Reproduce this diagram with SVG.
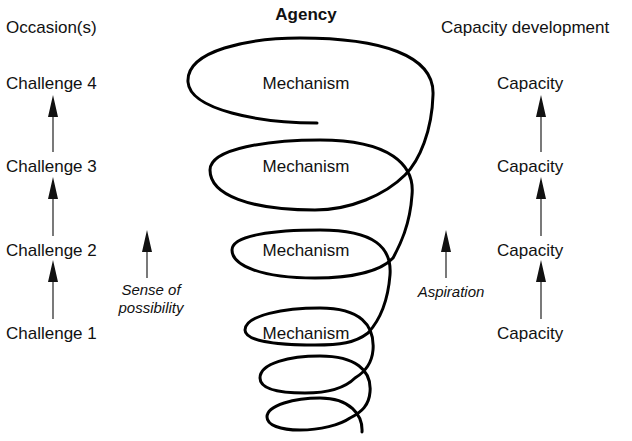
<svg xmlns="http://www.w3.org/2000/svg" width="632" height="441" viewBox="0 0 632 441">
<style>
text{font-family:"Liberation Sans",Arial,sans-serif;font-size:17px;fill:#111}
.c{text-anchor:middle}
.i{font-style:italic;font-size:15px}
.a{stroke:#222;stroke-width:1.2;fill:none}
.h{fill:#111}
</style>
<rect width="632" height="441" fill="#fff"/>
<g id="headers">
<text x="306" y="20" class="c" style="font-weight:bold">Agency</text>
<text x="6" y="33">Occasion(s)</text>
<text x="441" y="33">Capacity development</text>
</g>
<g id="spiral"><path fill="none" stroke="#000" stroke-width="3" stroke-linecap="round" d="M317,123 C260,123 190,110 188,82 C186,50 250,38 300,38 C380,38 435,55 433,95 C432,130 420,160 405,175 C385,195 350,210 315,210 C250,210 210,195 210,170 C210,148 270,140 320,140 C390,140 415,165 412,195 C410,225 400,245 393,258 C380,272 350,278 315,278 C260,278 232,265 232,250 C232,235 275,230 320,230 C375,230 392,248 390,275 C388,300 380,320 368,333 C355,343 340,345 315,345 C270,345 245,340 245,330 C245,315 285,308 320,308 C360,308 375,325 373,350 C372,362 365,372 355,378 C345,388 330,393 305,393 C275,393 260,388 260,378 C260,363 290,356 320,356 C355,356 372,370 370,392 C369,405 362,412 350,418 C340,425 320,430 300,430 C280,430 267,425 267,417 C267,405 295,398 320,398 C350,398 363,415 362,432"/></g>
<g id="mechanisms">
<text x="306" y="89" class="c">Mechanism</text>
<text x="306" y="172" class="c">Mechanism</text>
<text x="306" y="256" class="c">Mechanism</text>
<text x="306" y="339" class="c">Mechanism</text>
</g>
<g id="challenges">
<text x="6" y="89">Challenge 4</text>
<text x="6" y="172">Challenge 3</text>
<text x="6" y="256">Challenge 2</text>
<text x="6" y="339">Challenge 1</text>
</g>
<g id="capacities">
<text x="497" y="89">Capacity</text>
<text x="497" y="172">Capacity</text>
<text x="497" y="256">Capacity</text>
<text x="497" y="339">Capacity</text>
</g>
<g id="labels">
<text x="151" y="295" class="c i">Sense of</text>
<text x="151" y="313" class="c i">possibility</text>
<text x="451" y="297" class="c i">Aspiration</text>
</g>
<g id="connectors">
<path class="a" d="M53,319 V275 M53,236 V192 M53,152 V110 M541,319 V275 M541,236 V192 M541,152 V110 M147,278 V245 M446,278 V245"/>
<path class="h" d="M48,282 L53,260 L58,282 Z M48,199 L53,177 L58,199 Z M48,117 L53,95 L58,117 Z M536,282 L541,260 L546,282 Z M536,199 L541,177 L546,199 Z M536,117 L541,95 L546,117 Z M142,252 L147,230 L152,252 Z M441,252 L446,230 L451,252 Z"/>
</g>
</svg>
